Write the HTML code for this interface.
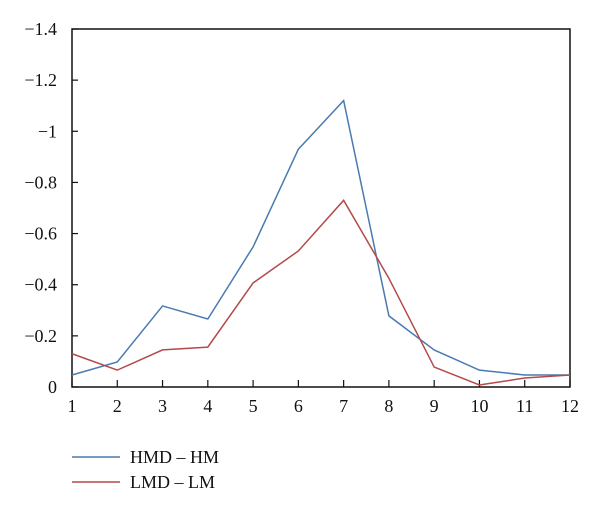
<!DOCTYPE html>
<html><head><meta charset="utf-8"><style>
html,body{margin:0;padding:0;background:#fff;}
svg text{font-family:"Liberation Serif",serif;font-size:18px;fill:#111;}
</style></head><body>
<svg id="chart" width="600" height="509" viewBox="0 0 600 509">
<g id="axes"></g><g id="series"></g><g id="legend"></g>
</svg>
<script>
const categories=[1,2,3,4,5,6,7,8,9,10,11,12];
const hmdValues=[0.047,0.098,0.317,0.266,0.548,0.93,1.12,0.278,0.145,0.066,0.047,0.047];
const lmdValues=[0.13,0.066,0.145,0.156,0.407,0.532,0.73,0.425,0.078,0.008,0.035,0.047];
const yTicks=[0,0.2,0.4,0.6,0.8,1.0,1.2,1.4];
const yTickLabels=["0","\u22120.2","\u22120.4","\u22120.6","\u22120.8","\u22121","\u22121.2","\u22121.4"];
const seriesNames=["HMD \u2013 HM","LMD \u2013 LM"];
const L=72,R=570,T=29,B=387;
const x=v=>L+(v-1)/(11)*(R-L);
const y=v=>B-v/1.4*(B-T);
const NS="http://www.w3.org/2000/svg";
function mk(tag,attrs,parent){const e=document.createElementNS(NS,tag);for(const k in attrs)e.setAttribute(k,attrs[k]);parent.appendChild(e);return e;}
const axes=document.getElementById('axes');
const frame=mk('rect',{x:L,y:T,width:R-L,height:B-T,fill:'none',stroke:'#111','stroke-width':1.5},axes);


yTicks.forEach((t,i)=>{
 const ln=mk('line',{x1:L,x2:L+6,y1:y(t),y2:y(t),stroke:'#111','stroke-width':1.2},axes);
 
 
 const tx=mk('text',{x:L-15,y:y(t)+6,'text-anchor':'end'},axes);
 tx.textContent=yTickLabels[i];
 
 
});
categories.forEach(c=>{
 const ln=mk('line',{x1:x(c),x2:x(c),y1:B,y2:B-7,stroke:'#111','stroke-width':1.2},axes);
 
 
 const tx=mk('text',{x:x(c),y:B+25,'text-anchor':'middle'},axes);
 tx.textContent=String(c);
 
 
});
const ser=document.getElementById('series');
const colors=["#4a7bb0","#b44a4a"];
[hmdValues,lmdValues].forEach((vals,i)=>{
 const p=mk('polyline',{points:vals.map((v,j)=>x(categories[j])+','+y(v)).join(' '),fill:'none',stroke:colors[i],'stroke-width':1.5},ser);
 
 
});
const leg=document.getElementById('legend');
seriesNames.forEach((n,i)=>{
 const yy=457+i*25;
 const ln=mk('line',{x1:72,x2:120,y1:yy,y2:yy,stroke:colors[i],'stroke-width':1.5},leg);
 
 
 const tx=mk('text',{x:130,y:yy+6},leg);
 tx.textContent=n;
 
 
});
</script>
</body></html>
